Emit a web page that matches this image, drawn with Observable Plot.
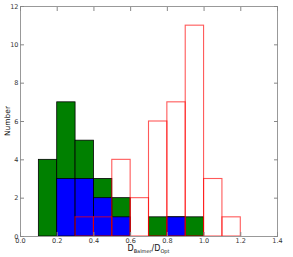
<!DOCTYPE html>
<html><head><meta charset="utf-8">
<script src="https://cdn.jsdelivr.net/npm/d3@7"></script>
<script src="https://cdn.jsdelivr.net/npm/@observablehq/plot@0.6"></script>
<style>body{margin:0;background:#fff}svg{display:block}</style>
</head><body><div id="chart"></div>
<script>
const binEdges = [0.0,0.1,0.2,0.3,0.4,0.5,0.6,0.7,0.8,0.9,1.0,1.1,1.2,1.3];
const greenCounts = [0,4,7,5,3,2,0,1,1,1,0,0,0];
const blueCounts  = [0,0,3,3,2,1,0,0,1,0,0,0,0];
const redCounts   = [0,0,0,1,1,4,2,6,7,11,3,1,0];
const xTicks = [0,0.2,0.4,0.6,0.8,1.0,1.2,1.4];
const yTicks = [0,2,4,6,8,10,12];

const bins = (counts) => counts.map((c,i)=>({x1:binEdges[i],x2:binEdges[i+1],y:c})).filter(d=>d.y>0);

const tickFmt = d3.format(".1f");
const noLabel = () => "";
const plot = Plot.plot({
  width:293, height:257,
  marginLeft:20, marginRight:16, marginTop:6, marginBottom:21,
  style:{fontFamily:"DejaVu Sans", fontSize:"6.5px", color:"#333"},
  x:{domain:[0,1.4]},
  y:{domain:[0,12]},
  marks:[
    Plot.rectY(bins(greenCounts),{x1:"x1",x2:"x2",y:"y",fill:"#008000",stroke:"#000",strokeWidth:0.8}),
    Plot.rectY(bins(blueCounts),{x1:"x1",x2:"x2",y:"y",fill:"#0000ff",stroke:"#000",strokeWidth:0.8}),
    Plot.rectY(bins(redCounts),{x1:"x1",x2:"x2",y:"y",fill:"none",stroke:"#ff0000",strokeOpacity:0.65,strokeWidth:1.1}),
    Plot.ruleY([0],{x1:binEdges[0],x2:binEdges[binEdges.length-1],stroke:"#7a1010",strokeWidth:1.1}),
    Plot.frame({stroke:"#999",strokeWidth:1}),
    Plot.axisX(xTicks,{anchor:"bottom",tickSize:-4,tickPadding:6,tickFormat:tickFmt,label:null,stroke:"#888"}),
    Plot.axisX(xTicks,{anchor:"top",tickSize:-4,tickFormat:noLabel,label:null,stroke:"#888"}),
    Plot.axisY(yTicks,{anchor:"left",tickSize:-4,tickPadding:6,label:null,stroke:"#888"}),
    Plot.axisY(yTicks,{anchor:"right",tickSize:-4,tickFormat:noLabel,label:null,stroke:"#888"})
  ]
});
document.getElementById("chart").appendChild(plot);
const svg = d3.select(plot);
const xs = plot.scale("x"), ys = plot.scale("y");
const xl = svg.append("text").attr("x",(xs.apply(0)+xs.apply(1.4))/2).attr("y",251)
  .attr("text-anchor","middle").attr("font-family","DejaVu Sans").attr("font-size","8px").attr("fill","#111");
xl.append("tspan").text("D");
xl.append("tspan").attr("font-size","5px").attr("dy","2").text("Balmer");
xl.append("tspan").attr("dy","-2").text("/D");
xl.append("tspan").attr("font-size","5px").attr("dy","2").text("Opt");
svg.append("text").attr("transform",`translate(10,${(ys.apply(0)+ys.apply(12))/2}) rotate(-90)`)
  .attr("text-anchor","middle").attr("font-family","DejaVu Sans").attr("font-size","7.5px").attr("fill","#111").text("Number");
</script></body></html>
